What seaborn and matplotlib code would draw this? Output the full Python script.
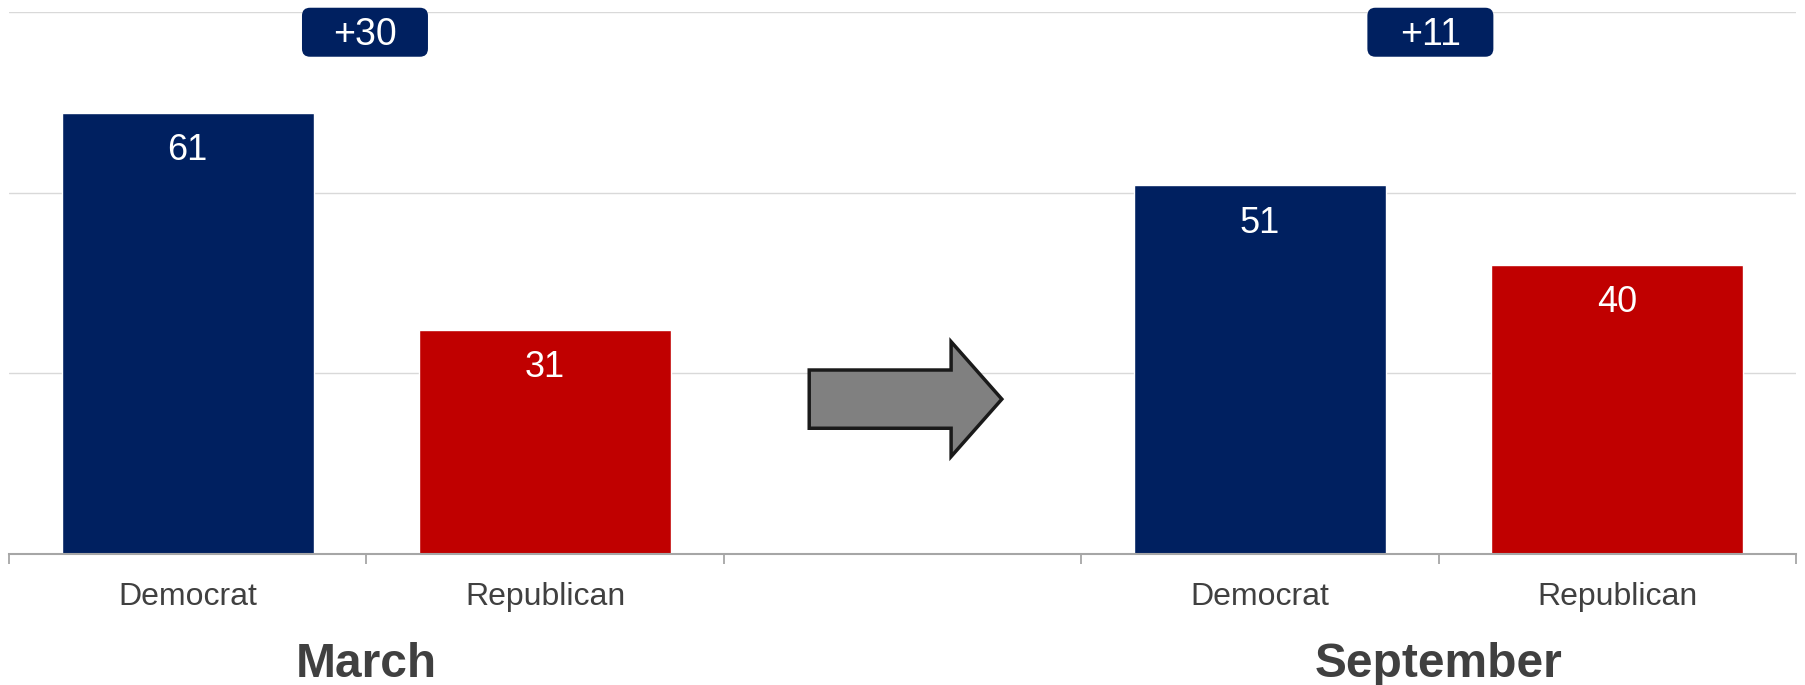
import matplotlib
matplotlib.use("Agg")
import matplotlib.pyplot as plt
import matplotlib.transforms as mtransforms
from matplotlib.patches import FancyBboxPatch, FancyArrow
import seaborn as sns
import pandas as pd

# chart values
months = ["March", "March", "September", "September"]
parties = ["Democrat", "Republican", "Democrat", "Republican"]
shares = [61, 31, 51, 40]
slots = ["Mar-D", "Mar-R", "Sep-D", "Sep-R"]
slot_order = ["Mar-D", "Mar-R", "gap", "Sep-D", "Sep-R"]
month_names = ["March", "September"]
gap_labels = ["+30", "+11"]

NAVY = "#002060"
RED = "#C00000"
TEXT = "#404040"
GREY = "#a6a6a6"

df = pd.DataFrame({"slot": slots, "month": months, "party": parties, "share": shares})

sns.set_theme(style="white")
plt.rcParams["font.family"] = ["Liberation Sans", "DejaVu Sans"]

fig = plt.figure(figsize=(18.06, 6.85), dpi=100)
ax = fig.add_axes([9 / 1806, 131 / 685, 1787 / 1806, 542 / 685])

sns.barplot(data=df, x="slot", y="share", hue="party", order=slot_order,
            palette={"Democrat": NAVY, "Republican": RED}, width=0.705,
            dodge=False, legend=False, saturation=1, ax=ax, zorder=2)

ax.set_xlim(-0.5, 4.5)
ax.set_ylim(0, 75)
ax.set_yticks([0, 25, 50, 75])
ax.yaxis.grid(True, color="#d9d9d9", lw=1)
ax.set_axisbelow(True)
ax.tick_params(axis="y", left=False, labelleft=False)
ax.set_xlabel("")
ax.set_ylabel("")

# category labels at bar centres, boundary ticks between slots
pos = {s: slot_order.index(s) for s in slots}
tick_labels = ["" for _ in slot_order]
for s, p in zip(slots, parties):
    tick_labels[pos[s]] = p
ax.set_xticks(range(len(slot_order)))
ax.set_xticklabels(tick_labels)
ax.set_xticks([i - 0.5 for i in range(len(slot_order) + 1)], minor=True)
ax.tick_params(axis="x", which="major", bottom=False, length=0, pad=20,
               labelsize=23, labelcolor=TEXT)
ax.tick_params(axis="x", which="minor", bottom=True, length=7, width=1.3,
               color=GREY, direction="out")

for side in ["left", "top", "right"]:
    ax.spines[side].set_visible(False)
ax.spines["bottom"].set_color(GREY)
ax.spines["bottom"].set_linewidth(1.5)

# value labels inside the bars
for s, v in zip(slots, shares):
    ax.annotate(str(v), (pos[s], v), xytext=(0, -34), textcoords="offset points",
                ha="center", va="baseline", color="white", fontsize=26, zorder=5)

# difference badges and month titles
trans = mtransforms.blended_transform_factory(ax.transData, fig.transFigure)
badge_shift = [-0.004, -0.023]
for m, lab, dx in zip(month_names, gap_labels, badge_shift):
    xs = [pos[s] for s, mm in zip(slots, months) if mm == m]
    xc = sum(xs) / len(xs)
    bx = xc + dx
    w, h, yc = 0.3525, 6.78, 72.2
    badge = FancyBboxPatch((bx - w / 2, yc - h / 2), w, h,
                           boxstyle="round,pad=0,rounding_size=0.0224",
                           mutation_aspect=49.46, fc=NAVY, ec="none",
                           clip_on=False, zorder=4)
    ax.add_patch(badge)
    ax.annotate(lab, (bx, yc), xytext=(0, -9.5), textcoords="offset points",
                ha="center", va="baseline", color="white", fontsize=27,
                zorder=5, annotation_clip=False)
    ax.text(xc, 8 / 685, m, transform=trans, ha="center", va="baseline",
            fontsize=34.5, fontweight="bold", color=TEXT)

# arrow in the empty slot
arrow = FancyArrow(1.739, 21.43, 0.539, 0, width=8.06, head_width=15.9,
                   head_length=0.142, length_includes_head=True,
                   fc="#808080", ec="#1a1a1a", lw=2.5, zorder=3)
ax.add_patch(arrow)

fig.savefig("out.png", dpi=100)
